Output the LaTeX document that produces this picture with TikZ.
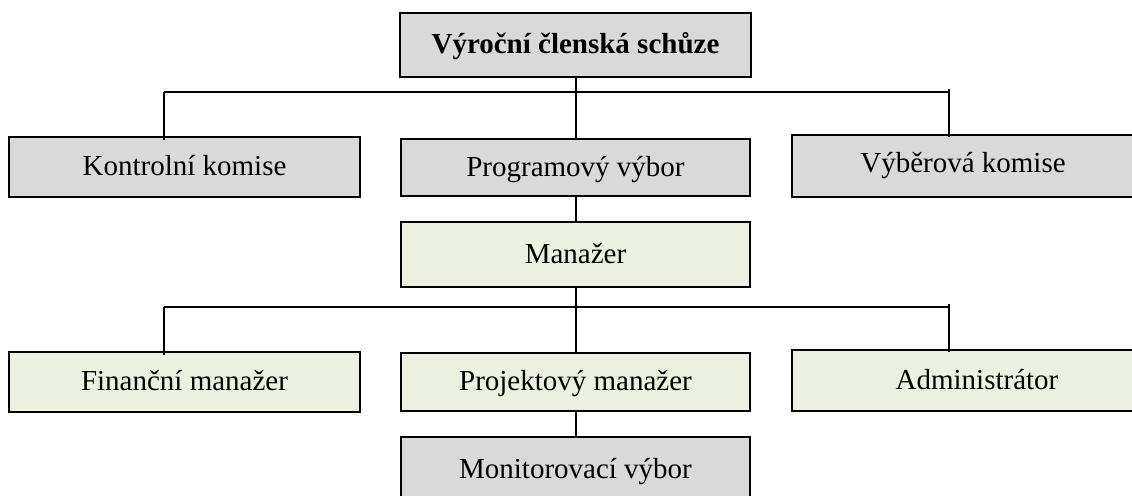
\documentclass[tikz,border=0pt]{standalone}
\usepackage{fontspec}
\setmainfont{Liberation Serif}
\usetikzlibrary{positioning}

\definecolor{boxgrey}{RGB}{217,217,217}
\definecolor{boxgreen}{RGB}{235,241,222}
\tikzset{
  orgtext/.style={font=\fontsize{14.5}{17}\selectfont, text height=12pt, text depth=3pt},
  orgbox/.style={draw, rectangle, line width=0.75pt, inner sep=0pt, orgtext},
  greybox/.style={orgbox, fill=boxgrey},
  greenbox/.style={orgbox, fill=boxgreen},
  link/.style={line width=0.6pt}
}

\begin{document}
\begin{tikzpicture}[x=0.5pt,y=0.5pt,yscale=-1,xscale=1]
\useasboundingbox (0,0) rectangle (1132,496);
\clip (0,0) rectangle (1132,496);

%Shape: Rectangle [top]
\node[greybox, minimum width=175.5pt, minimum height=32pt,
  font=\fontsize{14.5}{17}\selectfont\bfseries] (schuze) at (575.5,45) {Výroční členská schůze};

%Shape: Rectangle [committees]
\node[greybox, minimum width=175.5pt, minimum height=30pt] (kontrol) at (184.5,167) {Kontrolní komise};
\node[greybox, minimum width=174.5pt, minimum height=28.5pt] (program) at (575.5,167.5) {Programový výbor};
\node[greybox, minimum width=174pt, minimum height=31pt,
  label={[xshift=-1.5pt, yshift=1pt, orgtext]center:Výběrová komise}] (vyber) at (966,166) {};

%Shape: Rectangle [manager]
\node[greenbox, minimum width=174.5pt, minimum height=32.5pt] (manazer) at (575.5,254.5) {Manažer};

%Shape: Rectangle [staff]
\node[greenbox, minimum width=175.5pt, minimum height=30pt] (financni) at (184.5,382) {Finanční manažer};
\node[greenbox, minimum width=174.5pt, minimum height=29pt] (projekt) at (575.5,382) {Projektový manažer};
\node[greenbox, minimum width=174pt, minimum height=30.5pt,
  label={[xshift=5.5pt, orgtext]center:Administrátor}] (admin) at (966,380.5) {};

%Shape: Rectangle [bottom]
\node[greybox, minimum width=174.5pt, minimum height=33pt] (monitor) at (575.5,470) {Monitorovací výbor};

%Coordinates of the spine and the buses
\coordinate (spine) at (576,0);
\coordinate (komiseL) at (164,92);
\coordinate (komiseR) at (949,92);
\coordinate (staffL) at (164,307);
\coordinate (staffR) at (949,307);

%Straight Lines [spine]
\draw[link] (schuze.south -| spine) -- (program.north -| spine);
\draw[link] (program.south -| spine) -- (manazer.north -| spine);
\draw[link] (manazer.south -| spine) -- (projekt.north -| spine);
\draw[link] (projekt.south -| spine) -- (monitor.north -| spine);

%Straight Lines [committee bus]
\draw[link] (komiseL) -- (komiseR);
\draw[link] (komiseL) -- ([yshift=2pt]kontrol.north -| komiseL);
\draw[link] ([yshift=-1.5pt]komiseR) -- ([yshift=1.5pt]vyber.north -| komiseR);

%Straight Lines [staff bus]
\draw[link] (staffL) -- (staffR);
\draw[link] (staffL) -- ([yshift=2pt]financni.north -| staffL);
\draw[link] ([yshift=-1.5pt]staffR) -- ([yshift=1.5pt]admin.north -| staffR);

\end{tikzpicture}
\end{document}
